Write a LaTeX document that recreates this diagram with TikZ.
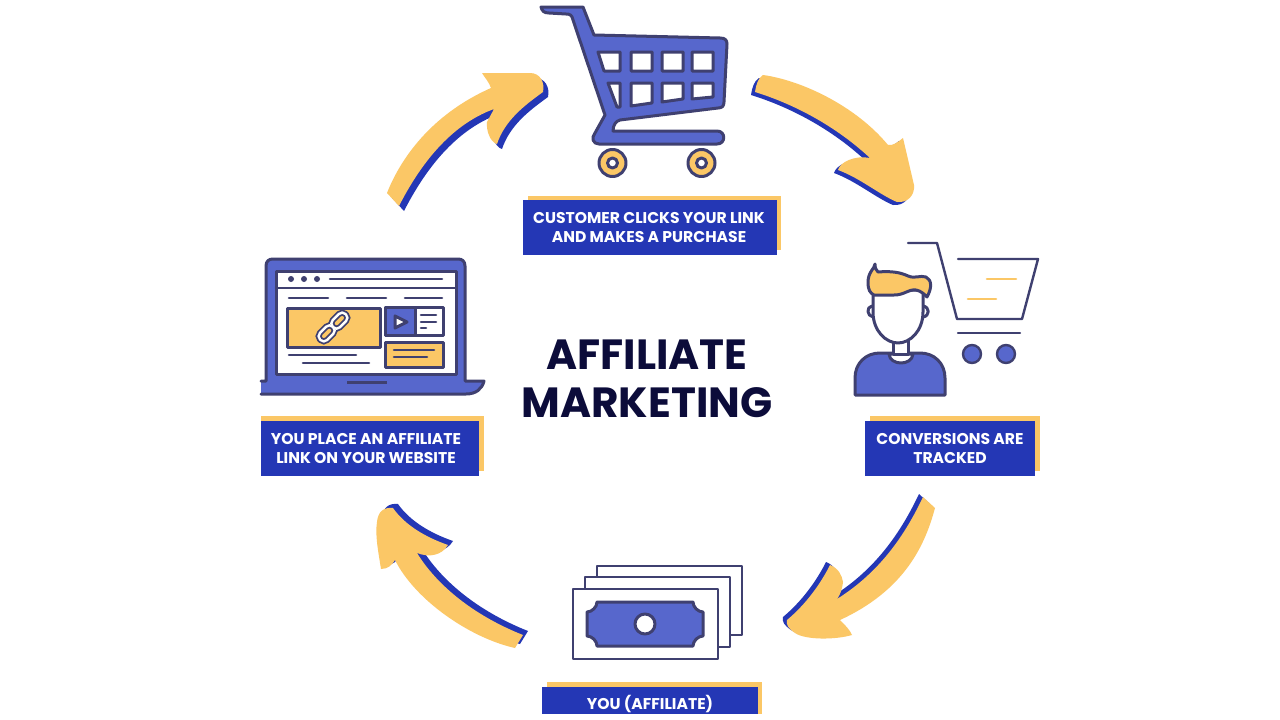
\documentclass[tikz,border=0pt]{standalone}
\usepackage{fontspec}
\setmainfont{Poppins}
\definecolor{orng}{HTML}{FBC766}
\definecolor{lblue}{HTML}{2437B5}
\definecolor{iblue}{HTML}{5767CC}
\definecolor{dark}{HTML}{3F4070}
\definecolor{navy}{HTML}{0C0C3A}
\tikzset{
  x=1pt,y=-1pt,
  every node/.style={inner sep=0pt,outer sep=0pt},
  ink/.style={draw=dark,line width=3pt,line join=round,line cap=round},
  fineink/.style={draw=dark,line width=2.4pt,line join=round,line cap=round},
  thinink/.style={draw=dark,line width=2.6pt,line cap=round,line join=round},
  bluebar/.style={fill=lblue,rectangle,text=white,align=center,font=\bfseries\fontsize{15.6}{19}\selectfont},
  labeltext/.style={text=white,align=center,font=\bfseries\fontsize{15.6}{19}\selectfont},
  orangebar/.style={fill=orng,rectangle},
  title/.style={text=navy,align=center,font=\bfseries\fontsize{42.2}{47.5}\selectfont},
  arrowfront/.style={fill=orng},
  arrowback/.style={fill=lblue}
}
\def\arrA{(763,75) .. controls (800,80) and (855,105) .. (888,145) .. controls (893,146) and (898,142) .. (903,138)
 -- (914,185) .. controls (915,195) and (908,203) .. (897,202) .. controls (880,195) and (860,178) .. (838,170)
 .. controls (840,162) and (855,155) .. (870,158) .. controls (840,130) and (800,106) .. (755,92)
 .. controls (756,85) and (758,78) .. (763,75) -- cycle}
\def\arrB{(923,497) -- (935,508) .. controls (925,545) and (905,590) .. (840,620)
 .. controls (845,625) and (850,630) .. (852,635) .. controls (835,640) and (805,640) .. (795,633)
 .. controls (788,628) and (786,625) .. (787,620) .. controls (805,605) and (820,585) .. (830,565)
 .. controls (838,568) and (842,575) .. (843,582) .. controls (842,590) and (840,595) .. (837,599)
 .. controls (880,572) and (905,535) .. (923,497) -- cycle}
\def\arrC{(523,635) -- (515,648) .. controls (470,638) and (415,600) .. (395,560)
 .. controls (392,565) and (388,569) .. (381,569) .. controls (378,550) and (375,535) .. (377,522)
 .. controls (378,512) and (383,507) .. (393,508) .. controls (405,525) and (425,537) .. (448,545)
 .. controls (442,555) and (430,558) .. (417,553) .. controls (440,590) and (480,618) .. (523,635) -- cycle}
\def\arrD{(387,193) .. controls (400,160) and (430,115) .. (491,88) .. controls (489,82) and (485,78) .. (482,73)
 -- (530,73) .. controls (540,73) and (545,82) .. (543,92) .. controls (525,105) and (505,120) .. (497,144)
 .. controls (490,142) and (486,130) .. (487,122) -- (494,109) .. controls (450,125) and (420,165) .. (399,206) -- cycle}
\begin{document}
\begin{tikzpicture}
\useasboundingbox (0,0) rectangle (1280,720);
\fill[white] (0,0) rectangle (1280,720);

% arrows
\fill[arrowback,shift={(-4,3)}] \arrA;
\fill[arrowfront] \arrA;
\fill[arrowback,shift={(-4,-3)}] \arrB;
\fill[arrowfront] \arrB;
\fill[arrowback,shift={(5,-4)}] \arrC;
\fill[arrowfront] \arrC;
\fill[arrowback,shift={(5,5)}] \arrD;
\fill[arrowfront] \arrD;

% title
\node[title] (titletext) at (647,379) {AFFILIATE\\MARKETING};

% cart
\path[ink,fill=iblue,even odd rule] (541,7) -- (583,7) -- (594,35) -- (720,38)
 .. controls (725,38) and (727,40) .. (727,44) -- (724,102) .. controls (724,106) and (722,108) .. (718,108)
 -- (620,120) .. controls (616,121) and (613,125) .. (613,131) -- (717,131)
 .. controls (726,131) and (726,144) .. (717,144) -- (599,144) .. controls (593,144) and (591,138) .. (595,133)
 -- (605,115) -- (573,20) .. controls (572,15) and (570,14) .. (566,14) -- (549,13) .. controls (544,13) and (542,11) .. (541,7) -- cycle
 (598,52) -- (620,52) -- (620,71) -- (604,71) -- cycle
 (631,52) -- (652,52) -- (652,71) -- (631,71) -- cycle
 (662,52) -- (683,52) -- (683,71) -- (662,71) -- cycle
 (692,52) -- (713,52) -- (713,71) -- (692,71) -- cycle
 (608,83) -- (620,83) -- (620,107) -- (617,107) -- cycle
 (631,83) -- (652,83) -- (652,103) -- (631,106) -- cycle
 (662,83) -- (683,83) -- (683,99) -- (662,102) -- cycle
 (692,83) -- (713,83) -- (713,97) -- (692,99) -- cycle;
\foreach \wx in {612.5,701.5}{
  \path[ink,fill=orng] (\wx,163) circle (13.5);
  \path[ink,fill=white] (\wx,163) circle (5);
}

% laptop
\path[ink,fill=iblue] (261,381) -- (266,381) -- (266,266) .. controls (266,261) and (269,259) .. (273,259) -- (458,259)
 .. controls (462,259) and (465,261) .. (465,266) -- (465,381) -- (484,381)
 .. controls (482,389) and (476,394) .. (466,394) -- (261,394);
\path[ink,fill=white] (276,271) rectangle (456,374);
\draw[thinink] (276,288) -- (456,288);
\fill[dark] (291,279) circle (3) (304,279) circle (3) (317,279) circle (3);
\fill[dark] (347,381) rectangle (387,384);
\draw[thinink] (330,279) -- (442,279);
\draw[thinink] (289,298) -- (328,298) (347,298) -- (386,298) (405,298) -- (442,298);
\path[ink,fill=orng] (287,308) rectangle (380,347);
\path[ink,fill=white] (385,307) rectangle (443,335);
\path[ink,fill=iblue] (385,307) rectangle (415,335);
\path[ink,fill=white] (395,316) -- (407,322) -- (395,328) -- cycle;
\draw[thinink] (421,315) -- (436,315) (421,322) -- (436,322) (421,328) -- (426,328);
\path[ink,fill=orng] (385,342) rectangle (443,367);
\draw[thinink] (394,350) -- (434,350) (394,357) -- (427,357);
\draw[thinink] (289,355) -- (356,355) (303,363) -- (369,363);
\begin{scope}[shift={(333,327)},rotate=45]
  \foreach \lx in {-9,9}{
    \path[draw=dark,line width=6pt,rounded corners=4.5pt] (\lx-9,-5) rectangle (\lx+9,5);
  }
  \foreach \lx in {-9,9}{
    \path[draw=white,line width=2.4pt,rounded corners=4.5pt] (\lx-9,-5) rectangle (\lx+9,5);
  }
\end{scope}

% person and outline cart
\draw[fineink] (908,243) -- (937,243) -- (957,319) -- (1022,319) -- (1038,259) -- (958,259);
\draw[draw=orng,line width=2.6pt,line cap=round] (987,279) -- (1016,279) (968,299) -- (996,299);
\draw[fineink] (958,333) -- (1020,333);
\path[fineink,fill=iblue] (972,354) circle (9);
\path[fineink,fill=iblue] (1006,354) circle (9);
\path[ink,fill=iblue] (855,395) -- (855,378) .. controls (855,363) and (866,353) .. (880,353) -- (920,353)
 .. controls (934,353) and (945,363) .. (945,378) -- (945,395) -- cycle;
\path[ink,fill=white] (889,354) .. controls (890,366) and (912,366) .. (913,354) -- cycle;
\path[ink,fill=white] (893,340) -- (893,354) -- (908,354) -- (908,340);
\path[ink,fill=white] (872,306) .. controls (866,307) and (867,316) .. (873,317);
\path[ink,fill=white] (923,306) .. controls (930,307) and (930,316) .. (923,317);
\path[ink,fill=white] (873,290) -- (873,312) .. controls (873,331) and (886,343) .. (898,343)
 .. controls (910,343) and (923,331) .. (923,312) -- (923,290) -- cycle;
\path[ink,fill=orng] (875,264) .. controls (875,268) and (868,272) .. (868,282) .. controls (868,290) and (870,293) .. (874,295)
 -- (894,295) .. controls (905,295) and (908,289) .. (916,290) .. controls (921,291) and (924,294) .. (927,297)
 .. controls (932,288) and (932,280) .. (926,277) .. controls (920,275) and (915,279) .. (908,276)
 .. controls (900,272) and (890,271) .. (878,272) .. controls (876,270) and (875,268) .. (875,264) -- cycle;

% money
\path[fineink,fill=white] (597,566) rectangle (742,635);
\path[fineink,fill=white] (585,577) rectangle (730,647);
\path[fineink,fill=white] (573,589) rectangle (718,659);
\path[ink,fill=iblue] (597,602) -- (693,602) .. controls (693,607) and (698,612) .. (703,612) -- (703,636)
 .. controls (698,636) and (693,641) .. (693,646) -- (597,646) .. controls (597,641) and (592,636) .. (587,636)
 -- (587,612) .. controls (592,612) and (597,607) .. (597,602) -- cycle;
\path[ink,fill=white] (645,624) circle (10);

% labels
\node[orangebar,minimum width=253pt,minimum height=54pt] (bar1) at (654.5,223) {};
\node[bluebar,minimum width=254pt,minimum height=55pt] (label1) at (650,227.5) {};
\node[labeltext] (text1) at (649,227) {CUSTOMER CLICKS YOUR LINK\\AND MAKES A PURCHASE};
\node[orangebar,minimum width=223pt,minimum height=55pt] (bar2) at (372.5,443.5) {};
\node[bluebar,minimum width=218pt,minimum height=55pt] (label2) at (370,448.5) {};
\node[labeltext] (text2) at (366,448) {YOU PLACE AN AFFILIATE\\LINK ON YOUR WEBSITE};
\node[orangebar,minimum width=170pt,minimum height=55pt] (bar3) at (955,443.5) {};
\node[bluebar,minimum width=170pt,minimum height=55pt] (label3) at (950,448.5) {};
\node[labeltext] (text3) at (950,448) {CONVERSIONS ARE\\TRACKED};
\begin{scope}
\clip (0,0) rectangle (1280,713);
\node[orangebar,minimum width=215pt,minimum height=40pt] (bar4) at (654.5,702) {};
\node[bluebar,minimum width=216pt,minimum height=40pt] (label4) at (650,707) {};
\node[labeltext,anchor=base] (text4) at (650,709) {YOU (AFFILIATE)};
\end{scope}
\end{tikzpicture}
\end{document}
